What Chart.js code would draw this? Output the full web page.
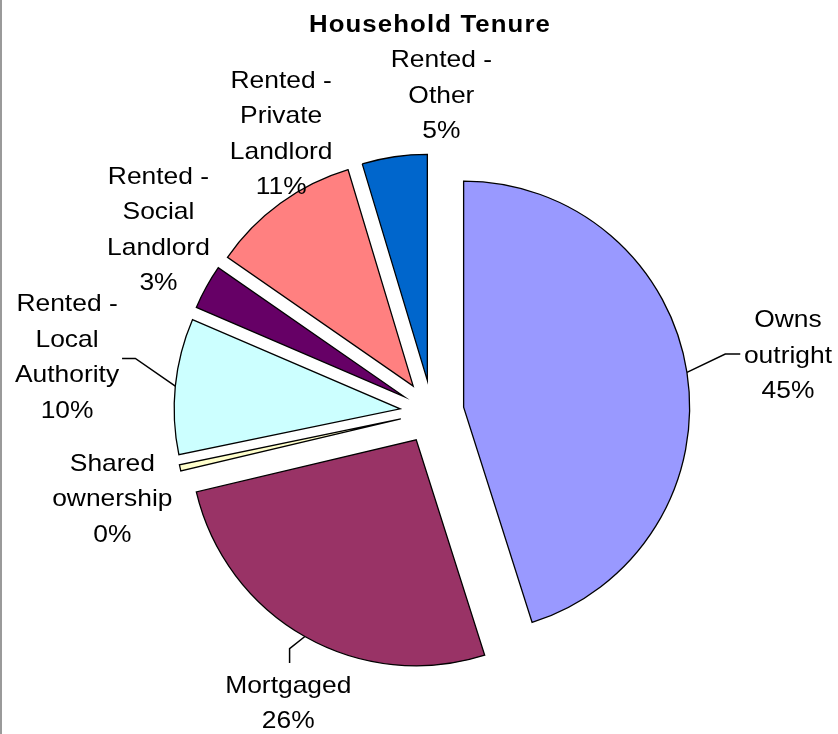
<!DOCTYPE html>
<html lang="en">
    <head>
        <title> Household Tenure </title>
        <meta charset="utf-8">
        <script src="https://cdn.jsdelivr.net/npm/chart.js@4.4.1/dist/chart.umd.min.js"></script>
        <style>
            html, body { margin: 0; padding: 0; background: #fff; }
            #wrap { position: relative; width: 838px; height: 734px; }
            #edge { position: absolute; left: 0; top: 0; width: 2px; height: 734px; background: #9a9a9a; }
        </style>
    </head>

    <body>
        <div id="wrap">
            <canvas id="tenureChart"></canvas>
            <div id="edge"></div>
        </div>

        <script>

            // data
            const categories = [
                'Owns outright',
                'Mortgaged',
                'Shared ownership',
                'Rented - Local Authority',
                'Rented - Social Landlord',
                'Rented - Private Landlord',
                'Rented - Other'
            ];
            const shares = [45.1, 26.2, 0.45, 9.7, 3.2, 10.7, 4.65];
            const colours = ['#9999FF', '#993366', '#FFFFCC', '#CCFFFF', '#660066', '#FF8080', '#0066CC'];
            const chartTitle = 'Household Tenure';

            // layout bits (Excel style exploded pie)
            const EXPLODE = 32;
            const LINE_H = 35.5;
            const FONT = '24px "Liberation Sans", Arial, sans-serif';
            const TITLE_FONT = 'bold 23px "Liberation Sans", Arial, sans-serif';
            const STRETCH = 1.1;

            // label block centre: angle (deg clockwise from top) + distance from pie centre
            const labelAngle = [81.1, 206.2, 254.7, 278.4, 303.6, 331.5, 1.7];
            const labelDist  = [360.3, 325.5, 331.4, 368.9, 328.4, 316.1, 315.8];

            // leader lines: elbow and end relative to the label centre
            const leaders = {
                0: { elbow: [-62.7, -2.3], end: [-47.7, -2.3] },
                3: { elbow: [68.3, 0.3], end: [55, 0.3] },
                1: { elbow: [1.3, -55.5], end: [1.3, -41.1] }
            };

            const total = shares.reduce ((a, b) => a + b, 0);

            function stretchedText (ctx, text, x, y, sx) {
                ctx.save ();
                ctx.translate (x, y);
                ctx.scale (sx, 1);
                ctx.fillText (text, 0, 0);
                ctx.restore ();
            }

            function wrapLabel (ctx, text, maxWidth) {
                // keep "Rented -" together, then greedy wrap
                const words = text.replace ('Rented - ', 'Rented\u00a0- ').split (' ');
                const lines = [];
                let line = '';
                words.forEach (w => {
                    const test = line ? line + ' ' + w : w;
                    if (line && ctx.measureText (test).width * STRETCH > maxWidth) {
                        lines.push (line);
                        line = w;
                    } else {
                        line = test;
                    }
                });
                if (line) lines.push (line);
                return lines.map (l => l.replace ('\u00a0', ' '));
            }

            const explodedPie = {
                id: 'explodedPie',
                beforeDatasetDraw (chart, args) {
                    const ctx = chart.ctx;
                    args.meta.data.forEach (arc => {
                        const mid = (arc.startAngle + arc.endAngle) / 2;
                        ctx.save ();
                        ctx.translate (Math.cos (mid) * EXPLODE, Math.sin (mid) * EXPLODE);
                        arc.draw (ctx);
                        ctx.restore ();
                    });
                    return false;
                },
                afterDatasetsDraw (chart) {
                    const ctx = chart.ctx;
                    const arcs = chart.getDatasetMeta (0).data;
                    const cx = arcs[0].x;
                    const cy = arcs[0].y;

                    ctx.save ();
                    ctx.fillStyle = '#000';
                    ctx.strokeStyle = '#000';
                    ctx.lineWidth = 1.5;
                    ctx.font = FONT;
                    ctx.textAlign = 'center';
                    ctx.textBaseline = 'middle';

                    arcs.forEach ((arc, i) => {
                        const a = (labelAngle[i] - 90) * Math.PI / 180;
                        const lx = cx + Math.cos (a) * labelDist[i];
                        const ly = cy + Math.sin (a) * labelDist[i];

                        const lines = wrapLabel (ctx, categories[i], 118);
                        lines.push (Math.round (shares[i] / total * 100) + '%');
                        const top = ly - (lines.length - 1) * LINE_H / 2;
                        lines.forEach ((t, k) => stretchedText (ctx, t, lx, top + k * LINE_H, STRETCH));

                        const ld = leaders[i];
                        if (ld) {
                            const mid = (arc.startAngle + arc.endAngle) / 2;
                            const r = arc.outerRadius;
                            const sx = arc.x + Math.cos (mid) * (EXPLODE + r);
                            const sy = arc.y + Math.sin (mid) * (EXPLODE + r);
                            ctx.beginPath ();
                            ctx.moveTo (sx, sy);
                            ctx.lineTo (lx + ld.elbow[0], ly + ld.elbow[1]);
                            ctx.lineTo (lx + ld.end[0], ly + ld.end[1]);
                            ctx.stroke ();
                        }
                    });

                    ctx.font = TITLE_FONT;
                    ctx.letterSpacing = '1px';
                    stretchedText (ctx, chartTitle, 430, 25.5, 1.12);
                    ctx.restore ();
                }
            };

            const ctx = document.getElementById ('tenureChart').getContext ('2d');
            const tenureChart = new Chart (ctx, {
                type: 'pie',
                data: {
                    labels: categories,
                    datasets: [{
                        data: shares,
                        backgroundColor: colours,
                        borderColor: '#000',
                        borderWidth: 1.3,
                        borderJoinStyle: 'miter',
                        radius: 226
                    }]
                },
                options: {
                    responsive: true,
                    maintainAspectRatio: false,
                    animation: false,
                    layout: { padding: { left: 26, right: 0, top: 90, bottom: 0 } },
                    plugins: {
                        legend: { display: false },
                        title: { display: false },
                        tooltip: { enabled: false }
                    }
                },
                plugins: [explodedPie]
            });

        </script>
    </body>
</html>
